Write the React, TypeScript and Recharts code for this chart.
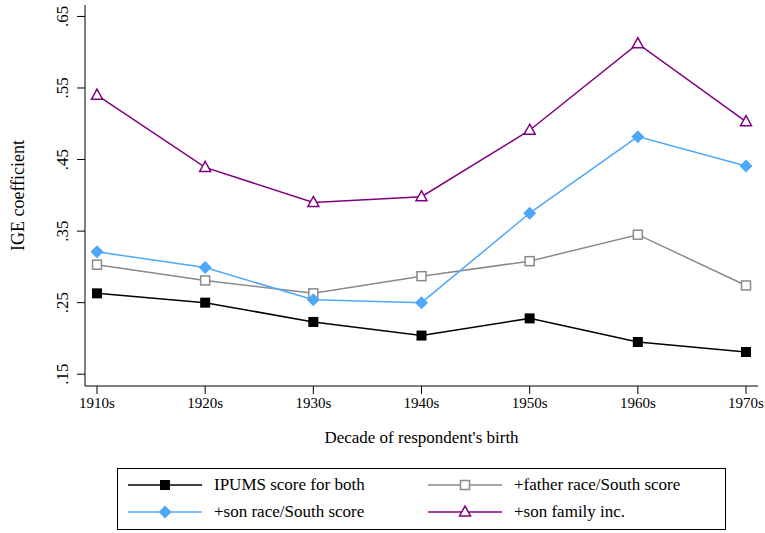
import React from "react";
import { LineChart, Line, XAxis, YAxis } from "recharts";

const decades = ["1910s", "1920s", "1930s", "1940s", "1950s", "1960s", "1970s"];
const ipumsBoth = [0.263, 0.25, 0.223, 0.204, 0.228, 0.195, 0.181];
const fatherRaceSouth = [0.303, 0.281, 0.263, 0.287, 0.308, 0.345, 0.274];
const sonRaceSouth = [0.321, 0.299, 0.254, 0.25, 0.375, 0.482, 0.441];
const sonFamilyInc = [0.54, 0.439, 0.39, 0.398, 0.491, 0.612, 0.503];
const yTicks = [0.15, 0.25, 0.35, 0.45, 0.55, 0.65];

const data = decades.map((d, i) => ({
  decade: d,
  ipums: ipumsBoth[i],
  father: fatherRaceSouth[i],
  son: sonRaceSouth[i],
  fam: sonFamilyInc[i],
}));

const FONT = "Liberation Serif, Times New Roman, Times, DejaVu Serif, serif";
const C_BLACK = "#000000";
const C_GRAY = "#8a8a8a";
const C_BLUE = "#4ea8fa";
const C_PURPLE = "#800080";

const FilledSquare = (p: any) => {
  const { cx, cy } = p;
  if (cx == null || cy == null) return null;
  return <rect x={cx - 5} y={cy - 5} width={10} height={10} fill={C_BLACK} />;
};
const HollowSquare = (p: any) => {
  const { cx, cy } = p;
  if (cx == null || cy == null) return null;
  return <rect x={cx - 4.5} y={cy - 4.5} width={9} height={9} fill="#fff" stroke={C_GRAY} strokeWidth={1.5} />;
};
const Diamond = (p: any) => {
  const { cx, cy } = p;
  if (cx == null || cy == null) return null;
  const r = 6.5;
  return <polygon points={`${cx},${cy - r} ${cx + r},${cy} ${cx},${cy + r} ${cx - r},${cy}`} fill={C_BLUE} />;
};
const Triangle = (p: any) => {
  const { cx, cy } = p;
  if (cx == null || cy == null) return null;
  return (
    <polygon
      points={`${cx},${cy - 6} ${cx + 5.5},${cy + 4} ${cx - 5.5},${cy + 4}`}
      fill="#fff"
      stroke={C_PURPLE}
      strokeWidth={1.5}
    />
  );
};

const YTick = (p: any) => {
  const { x, y, payload } = p;
  const label = payload.value.toFixed(2).replace(/^0/, "");
  return (
    <text
      x={x - 7}
      y={y}
      transform={`rotate(-90, ${x - 7}, ${y})`}
      textAnchor="middle"
      style={{ fontFamily: FONT }}
      fontSize={17}
      fill="#000"
    >
      {label}
    </text>
  );
};

const legendItems = [
  { label: "IPUMS score for both", color: C_BLACK, marker: "fsq", left: 10, top: 6 },
  { label: "+father race/South score", color: C_GRAY, marker: "hsq", left: 310, top: 6 },
  { label: "+son race/South score", color: C_BLUE, marker: "dia", left: 10, top: 33 },
  { label: "+son family inc.", color: C_PURPLE, marker: "tri", left: 310, top: 33 },
];

const LegendMarker = ({ color, marker }: any) => (
  <svg width={74} height={16} style={{ display: "block" }}>
    <line x1={0} y1={8} x2={74} y2={8} stroke={color} strokeWidth={1.5} />
    {marker === "fsq" && <rect x={32} y={3} width={10} height={10} fill={color} />}
    {marker === "hsq" && <rect x={32.5} y={3.5} width={9} height={9} fill="#fff" stroke={color} strokeWidth={1.5} />}
    {marker === "dia" && <polygon points="37,1.5 43.5,8 37,14.5 30.5,8" fill={color} />}
    {marker === "tri" && <polygon points="37,2 42.5,12 31.5,12" fill="#fff" stroke={color} strokeWidth={1.5} />}
  </svg>
);

export default function App() {
  return (
    <div style={{ position: "absolute", left: 0, top: 0, width: 765, height: 533, background: "#fff", fontFamily: FONT }}>
      <LineChart width={765} height={533} data={data} margin={{ top: 5, right: 7, left: 0, bottom: 0 }} style={{ fontFamily: FONT }}>
        <XAxis
          dataKey="decade"
          height={147}
          padding={{ left: 12, right: 12 }}
          tickSize={8}
          tickMargin={3}
          stroke="#000"
          tick={{ fill: "#000", fontFamily: FONT, fontSize: 15 }}
          interval={0}
          label={{
            value: "Decade of respondent's birth",
            position: "insideTop",
            offset: 45,
            fill: "#000",
            fontFamily: FONT,
            fontSize: 17,
          }}
        />
        <XAxis xAxisId="top" orientation="top" dataKey="decade" height={0} tick={false} tickLine={false} stroke="#000" />
        <YAxis
          width={85}
          domain={[0.1335, 0.666]}
          ticks={yTicks}
          tickSize={8}
          stroke="#000"
          tick={<YTick />}
          interval={0}
          allowDataOverflow
          label={{
            value: "IGE coefficient",
            angle: -90,
            position: "insideLeft",
            offset: 18,
            style: { textAnchor: "middle", fontFamily: FONT },
            fill: "#000",
            fontSize: 18,
          }}
        />
        <YAxis yAxisId="right" orientation="right" width={0} tick={false} tickLine={false} stroke="#000" />
        <Line dataKey="ipums" stroke={C_BLACK} strokeWidth={1.5} dot={<FilledSquare />} isAnimationActive={false} />
        <Line dataKey="father" stroke={C_GRAY} strokeWidth={1.5} dot={<HollowSquare />} isAnimationActive={false} />
        <Line dataKey="son" stroke={C_BLUE} strokeWidth={1.5} dot={<Diamond />} isAnimationActive={false} />
        <Line dataKey="fam" stroke={C_PURPLE} strokeWidth={1.5} dot={<Triangle />} isAnimationActive={false} />
      </LineChart>
      <div
        style={{
          position: "absolute",
          left: 117,
          top: 468,
          width: 609,
          height: 62,
          border: "1px solid #000",
          fontFamily: FONT,
          fontSize: 17,
          boxSizing: "border-box",
        }}
      >
        {legendItems.map((it) => (
          <div
            key={it.label}
            style={{ position: "absolute", left: it.left, top: it.top, display: "flex", alignItems: "center", whiteSpace: "nowrap" }}
          >
            <LegendMarker color={it.color} marker={it.marker} />
            <span style={{ marginLeft: 12, lineHeight: "20px" }}>{it.label}</span>
          </div>
        ))}
      </div>
    </div>
  );
}
